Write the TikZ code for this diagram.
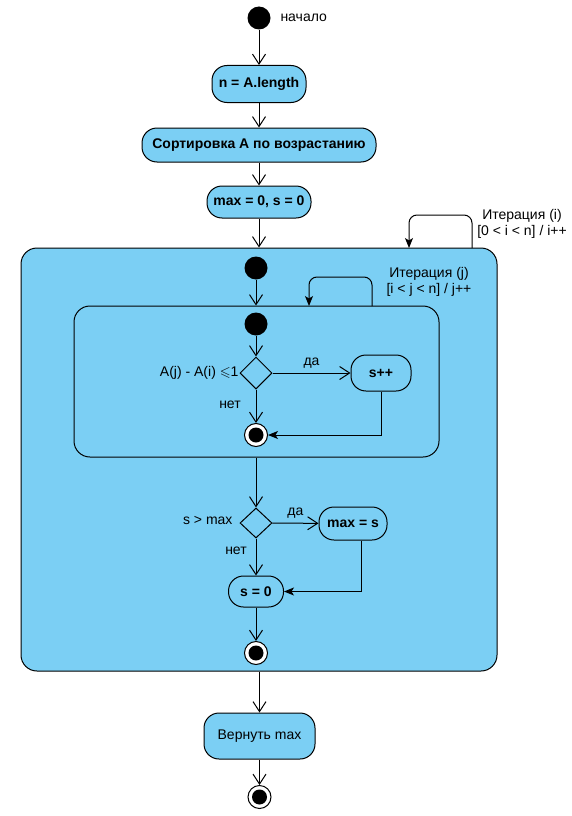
\documentclass[tikz,border=0pt]{standalone}
\usepackage{fontspec}
\usepackage{amssymb}
\setmainfont{Liberation Sans}
\usetikzlibrary{arrows.meta,calc,shapes.geometric}
\definecolor{ublue}{RGB}{123,207,244}
\begin{document}
\begin{tikzpicture}[x=1pt,y=-1pt,
  font=\fontsize{14}{16}\selectfont, line width=1pt,
  startn/.style={circle, fill=black, minimum size=23pt, inner sep=0pt},
  endn/.style={circle, draw, fill=white, minimum size=23pt, inner sep=0pt,
    path picture={\fill[black] (path picture bounding box.center) circle (7.5pt);}},
  act/.style={draw, rounded corners=15pt, fill=ublue, font=\fontsize{14}{16}\selectfont\bfseries, inner sep=0pt},
  actr/.style={draw, rounded corners=15pt, fill=ublue, inner sep=0pt},
  region/.style={draw, fill=ublue, rounded corners=16pt, inner sep=0pt},
  dec/.style={diamond, draw, fill=ublue, inner sep=0pt, minimum width=32pt, minimum height=32pt},
  lbl/.style={inner sep=1pt},
  oa/.style={-{Straight Barb[length=10pt,width=13pt]}},
  fa/.style={-{Stealth[length=10pt,width=8pt,inset=2.5pt]}}
]
\useasboundingbox (0,0) rectangle (572,816);

% top flow
\node[startn] (start) at (259,18) {};
\node[lbl, anchor=west] (lstart) at (279,18) {начало};
\node[act, minimum width=94pt, minimum height=37pt] (n) at (259,84) {n = A.length};
\node[act, minimum width=234pt, minimum height=34pt] (sort) at (259,145) {Сортировка А по возрастанию};
\node[act, minimum width=104pt, minimum height=32pt] (init) at (259,202) {max = 0, s = 0};

% regions
\node[region, minimum width=476pt, minimum height=423pt] (outer) at (259,459.5) {};
\node[region, minimum width=365pt, minimum height=151pt] (inner) at (256.5,381.5) {};

% outer loop
\coordinate (li1) at (472,248);
\coordinate (li2) at (409,248);
\draw[fa, rounded corners=8pt] (li1) -- (472,215) -- (409,215) -- (li2);
\node[lbl, align=center] (li) at (522,224) {Итерация (i)\\{[0 < i < n] / i++}};

% inner loop
\coordinate (lj1) at (372,306);
\coordinate (lj2) at (309,306);
\draw[fa, rounded corners=8pt] (lj1) -- (372,277) -- (309,277) -- (lj2);
\node[lbl, align=center] (lj) at (429,282) {Итерация (j)\\{[i < j < n] / j++}};

% inner flow
\node[startn] (ostart) at (256,268) {};
\node[startn] (istart) at (256,324) {};
\node[dec] (d1) at (256,373) {};
\node[lbl, anchor=east] (c1) at (240,373) {A(j) - A(i) $\leqslant$1};
\node[act, minimum width=60pt, minimum height=36pt] (spp) at (381,373) {s++};
\node[endn] (iend) at (256,435) {};
\node[lbl] (no1) at (230,405) {нет};

\node[dec, minimum height=30pt] (d2) at (256,523) {};
\node[lbl, anchor=east] (c2) at (234,520) {s > max};
\node[act, minimum width=68pt, minimum height=33pt] (maxs) at (353,523.5) {max = s};
\node[act, minimum width=55pt, minimum height=31pt] (s0) at (256,591.5) {s = 0};
\node[lbl] (no2) at (236,551) {нет};
\node[endn] (oend) at (256,653) {};

% bottom
\node[actr, minimum width=111pt, minimum height=46pt] (ret) at (259.5,736) {Вернуть max};
\node[endn] (fin) at (259.5,797) {};

% connectors
\draw[oa] (start) -- (n);
\draw[oa] (n) -- (sort);
\draw[oa] (sort) -- (init);
\draw[oa] (init) -- (init |- outer.north);
\draw[oa] (ostart) -- (ostart |- inner.north);
\draw[oa] (istart) -- (d1);
\draw[oa] (d1) -- node[lbl, above=3pt] (yes1) {да} (spp);
\draw[oa] (d1) -- (iend);
\draw[fa] (spp.south) |- (iend);
\draw[oa] (d2 |- inner.south) -- (d2);
\draw[oa] (d2) -- node[lbl, above=3pt] (yes2) {да} (maxs);
\draw[oa] (d2) -- (s0);
\draw[fa] ([xshift=8pt]maxs.south) |- (s0);
\draw[oa] (s0) -- (oend);
\draw[oa] (ret |- outer.south) -- (ret);
\draw[oa] (ret) -- (fin);
\end{tikzpicture}
\end{document}
